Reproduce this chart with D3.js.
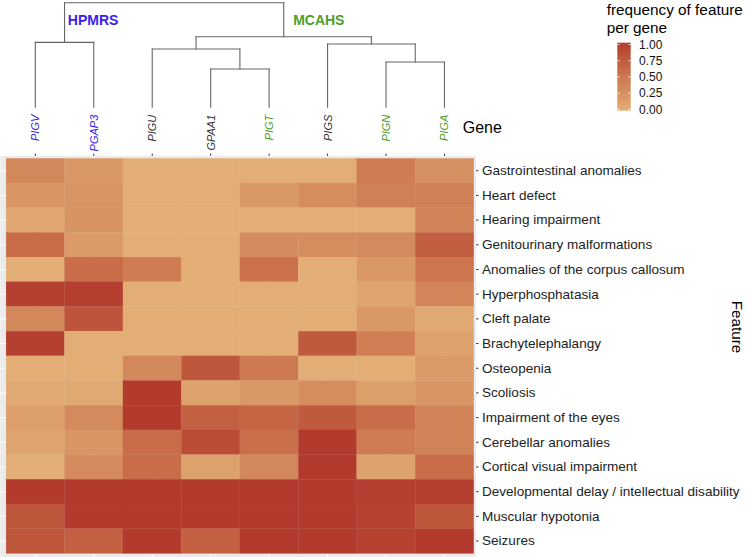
<!DOCTYPE html>
<html>
<head>
<meta charset="utf-8">
<script src="https://cdn.jsdelivr.net/npm/d3@7/dist/d3.min.js"></script>
<style>
  html, body { margin: 0; padding: 0; background: #fff; }
  svg { display: block; font-family: "Liberation Sans", Arial, Helvetica, sans-serif; }
</style>
</head>
<body>
<svg id="chart" width="746" height="557"></svg>
<script>
// ---------------- data ----------------
const genes = ["PIGV", "PGAP3", "PIGU", "GPAA1", "PIGT", "PIGS", "PIGN", "PIGA"];
const geneGroup = ["HPMRS", "HPMRS", "none", "none", "MCAHS", "none", "MCAHS", "MCAHS"];
const features = [
  "Gastrointestinal anomalies",
  "Heart defect",
  "Hearing impairment",
  "Genitourinary malformations",
  "Anomalies of the corpus callosum",
  "Hyperphosphatasia",
  "Cleft palate",
  "Brachytelephalangy",
  "Osteopenia",
  "Scoliosis",
  "Impairment of the eyes",
  "Cerebellar anomalies",
  "Cortical visual impairment",
  "Developmental delay / intellectual disability",
  "Muscular hypotonia",
  "Seizures"
];
// rows = features, columns = genes (order as in genes)
const values = [
  [0.35, 0.20, 0.00, 0.00, 0.00, 0.00, 0.45, 0.28],
  [0.22, 0.24, 0.00, 0.00, 0.20, 0.30, 0.42, 0.42],
  [0.07, 0.25, 0.00, 0.00, 0.00, 0.00, 0.00, 0.40],
  [0.60, 0.18, 0.00, 0.00, 0.32, 0.30, 0.33, 0.72],
  [0.00, 0.60, 0.45, 0.00, 0.55, 0.00, 0.20, 0.52],
  [0.97, 0.97, 0.00, 0.00, 0.00, 0.00, 0.08, 0.37],
  [0.35, 0.80, 0.00, 0.00, 0.00, 0.00, 0.20, 0.05],
  [0.97, 0.00, 0.00, 0.00, 0.00, 0.75, 0.43, 0.12],
  [0.00, 0.00, 0.35, 0.78, 0.48, 0.00, 0.00, 0.17],
  [0.05, 0.05, 1.00, 0.12, 0.20, 0.30, 0.14, 0.22],
  [0.14, 0.33, 1.00, 0.70, 0.65, 0.75, 0.60, 0.38],
  [0.08, 0.22, 0.60, 0.87, 0.57, 1.00, 0.45, 0.40],
  [0.00, 0.32, 0.60, 0.12, 0.35, 1.00, 0.10, 0.60],
  [1.00, 1.00, 1.00, 1.00, 1.00, 1.00, 0.98, 0.98],
  [0.78, 1.00, 1.00, 1.00, 1.00, 1.00, 0.95, 0.78],
  [0.78, 0.70, 1.00, 0.70, 1.00, 1.00, 0.95, 1.00]
];
// dendrogram merges (hclust style: negative = leaf index+1, positive = earlier merge number), height
const merges = [
  [-4, -5, 0.366],   // 1: GPAA1 + PIGT
  [-7, -8, 0.433],   // 2: PIGN + PIGA
  [-6, 2, 0.605],    // 3: PIGS + (2)
  [-3, 1, 0.557],    // 4: PIGU + (1)
  [-1, -2, 0.621],   // 5: PIGV + PGAP3  (HPMRS)
  [4, 3, 0.675],     // 6: MCAHS
  [5, 6, 1.000]      // 7: root
];
const clusterLabels = [
  { label: "HPMRS", merge: 5, group: "HPMRS" },
  { label: "MCAHS", merge: 6, group: "MCAHS" }
];
const legendBreaks = [0, 0.25, 0.5, 0.75, 1];
const legendTitle = ["frequency of feature", "per gene"];

// ---------------- styles ----------------
const groupColor = { HPMRS: "#3a22ee", MCAHS: "#4f9d2a", none: "#333333" };
const lowColor = "#e2ae75", highColor = "#b33b2e";

const svg = d3.select("#chart");

// scales
const x = d3.scaleBand().domain(genes).range([6.1, 473.7]).padding(0);
const y = d3.scaleBand().domain(features).range([158.4, 553.4]).padding(0);
const color = d3.scaleLinear().domain([0, 1]).range([lowColor, highColor]).interpolate(d3.interpolateLab);
const hScale = d3.scaleLinear().domain([0, 1]).range([107.3, 2.7]);

// ---------------- panel ----------------
const panel = { x0: 0.2, x1: 476, y0: 155.9, y1: 560 };
svg.append("rect")
  .attr("x", panel.x0).attr("y", panel.y0)
  .attr("width", panel.x1 - panel.x0).attr("height", panel.y1 - panel.y0)
  .attr("fill", "#ebebeb");

// grid lines
svg.append("g").selectAll("line").data(features).join("line")
  .attr("x1", panel.x0).attr("x2", panel.x1)
  .attr("y1", d => y(d) + y.bandwidth() / 2).attr("y2", d => y(d) + y.bandwidth() / 2)
  .attr("stroke", "#fff").attr("stroke-width", 1);
svg.append("g").selectAll("line").data(genes).join("line")
  .attr("y1", panel.y0).attr("y2", panel.y1)
  .attr("x1", d => x(d) + x.bandwidth() / 2).attr("x2", d => x(d) + x.bandwidth() / 2)
  .attr("stroke", "#fff").attr("stroke-width", 1);

// tiles
const cells = [];
features.forEach((f, i) => genes.forEach((g, j) => cells.push({ f, g, v: values[i][j] })));
svg.append("g").selectAll("rect").data(cells).join("rect")
  .attr("x", d => x(d.g)).attr("y", d => y(d.f))
  .attr("width", x.bandwidth()).attr("height", y.bandwidth())
  .attr("fill", d => color(d.v))
  .attr("stroke", d => color(d.v)).attr("stroke-width", 0.3);

// top axis (ticks only)
const xAxis = d3.axisTop(x).tickSize(2.3).tickFormat("");
svg.append("g").attr("transform", `translate(0,${panel.y0})`).call(xAxis)
  .call(g => g.select(".domain").remove())
  .call(g => g.selectAll(".tick line").attr("stroke", "#333").attr("stroke-width", 1));

// right axis
const yAxis = d3.axisRight(y).tickSize(2.5).tickPadding(3.5);
svg.append("g").attr("transform", `translate(${panel.x1},0)`).call(yAxis)
  .call(g => g.select(".domain").remove())
  .call(g => g.selectAll(".tick line").attr("stroke", "#333").attr("stroke-width", 1))
  .call(g => g.selectAll(".tick text")
    .attr("fill", "#222").attr("font-size", "13.55px")
    .attr("font-family", "'Liberation Sans', Arial, sans-serif"));

// axis titles
svg.append("text").attr("x", 462.7).attr("y", 133.3)
  .attr("font-size", "16px").attr("fill", "#000").text("Gene");
svg.append("text")
  .attr("transform", `translate(731.5,327) rotate(90)`)
  .attr("text-anchor", "middle")
  .attr("font-size", "15.3px").attr("fill", "#000").text("Feature");

// ---------------- dendrogram ----------------
const leafX = i => x(genes[i]) + x.bandwidth() / 2;
const nodes = [];
function nodePos(ref) {
  if (ref < 0) return { x: leafX(-ref - 1), h: 0 };
  return nodes[ref - 1];
}
const segs = [];
merges.forEach(([a, b, h]) => {
  const A = nodePos(a), B = nodePos(b);
  const n = { x: (A.x + B.x) / 2, h };
  nodes.push(n);
  segs.push([A.x, hScale(A.h), A.x, hScale(h)]);
  segs.push([B.x, hScale(B.h), B.x, hScale(h)]);
  segs.push([A.x, hScale(h), B.x, hScale(h)]);
});
svg.append("g").selectAll("line").data(segs).join("line")
  .attr("x1", d => d[0]).attr("y1", d => d[1])
  .attr("x2", d => d[2]).attr("y2", d => d[3])
  .attr("stroke", "#666").attr("stroke-width", 1.1)
  .attr("stroke-linecap", "square");

// cluster labels
const clusterOffset = { HPMRS: 3.3, MCAHS: 9.4 };
svg.append("g").selectAll("text").data(clusterLabels).join("text")
  .attr("x", d => nodes[d.merge - 1].x + clusterOffset[d.group])
  .attr("y", 24.5)
  .attr("font-size", "14px").attr("font-weight", "bold")
  .attr("fill", d => groupColor[d.group])
  .text(d => d.label);

// gene labels
svg.append("g").selectAll("text").data(genes).join("text")
  .attr("transform", (d) => `translate(${x(d) + x.bandwidth() / 2 + 4},114.7) rotate(-90)`)
  .attr("text-anchor", "end")
  .attr("font-size", "11px").attr("font-style", "italic")
  .attr("fill", (d, i) => groupColor[geneGroup[i]])
  .text(d => d);

// ---------------- legend ----------------
const lg = { x: 617.3, w: 13.4, y0: 42.7, y1: 110.7 };
const ly = d3.scaleLinear().domain([0, 1]).range([109.2, 44.5]);
const defs = svg.append("defs");
const grad = defs.append("linearGradient").attr("id", "lgrad")
  .attr("x1", 0).attr("y1", 1).attr("x2", 0).attr("y2", 0);
d3.range(0, 1.0001, 0.1).forEach(t => {
  grad.append("stop").attr("offset", t).attr("stop-color", color(t));
});
svg.append("rect").attr("x", lg.x).attr("y", lg.y0)
  .attr("width", lg.w).attr("height", lg.y1 - lg.y0)
  .attr("fill", "url(#lgrad)");
const lgTicks = svg.append("g");
legendBreaks.forEach(b => {
  lgTicks.append("line").attr("x1", lg.x).attr("x2", lg.x + 2.7)
    .attr("y1", ly(b)).attr("y2", ly(b)).attr("stroke", "#fff").attr("stroke-opacity", 0.8).attr("stroke-width", 0.8);
  lgTicks.append("line").attr("x1", lg.x + lg.w - 2.7).attr("x2", lg.x + lg.w)
    .attr("y1", ly(b)).attr("y2", ly(b)).attr("stroke", "#fff").attr("stroke-opacity", 0.8).attr("stroke-width", 0.8);
});
svg.append("g").selectAll("text").data(legendBreaks).join("text")
  .attr("x", 639).attr("y", d => ly(d)).attr("dy", "0.36em")
  .attr("font-size", "12px").attr("fill", "#111")
  .text(d => d3.format(".2f")(d));
svg.append("g").selectAll("text").data(legendTitle).join("text")
  .attr("x", 606.7).attr("y", (d, i) => 15 + i * 17.7)
  .attr("font-size", "15.3px").attr("fill", "#000")
  .text(d => d);
</script>
</body>
</html>
